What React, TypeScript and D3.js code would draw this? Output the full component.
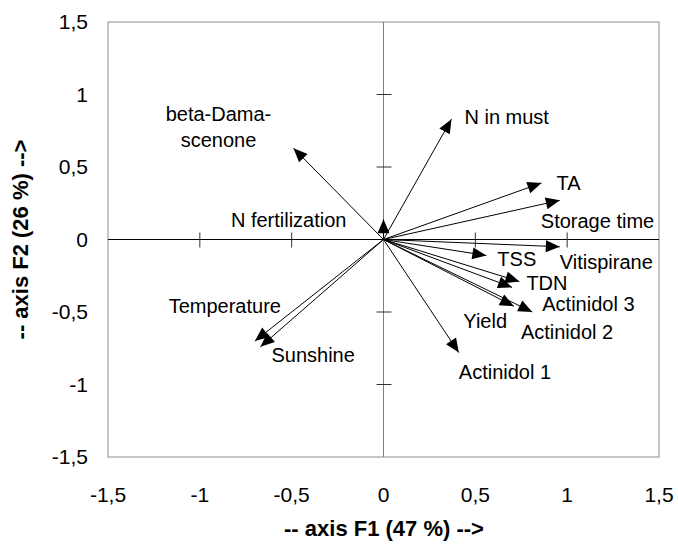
import React from "react";
import { scaleLinear } from "d3";

// loadings
const labels = [
  "N in must", "TA", "Storage time", "Vitispirane", "TSS", "TDN", "Yield",
  "Actinidol 2", "Actinidol 3", "Actinidol 1", "Sunshine", "Temperature",
  "N fertilization", "beta-Dama-scenone",
];
const f1 = [0.37, 0.86, 0.96, 0.96, 0.56, 0.74, 0.70, 0.71, 0.81, 0.41, -0.67, -0.70, 0.0, -0.49];
const f2 = [0.83, 0.39, 0.27, -0.05, -0.11, -0.29, -0.33, -0.46, -0.50, -0.78, -0.74, -0.70, 0.14, 0.63];
const ticks = [-1.5, -1, -0.5, 0, 0.5, 1, 1.5];
const tickText = ["-1,5", "-1", "-0,5", "0", "0,5", "1", "1,5"];

// where each label sits relative to its arrow tip
const labelPlace: Record<string, { dx: number; dy: number; anchor: string }> = {
  "N in must": { dx: 13, dy: -2, anchor: "start" },
  "TA": { dx: 15, dy: 0, anchor: "start" },
  "Storage time": { dx: -19, dy: 21, anchor: "start" },
  "Vitispirane": { dx: 0, dy: 15, anchor: "start" },
  "TSS": { dx: 11, dy: 4, anchor: "start" },
  "TDN": { dx: 7, dy: 1, anchor: "start" },
  "Yield": { dx: -5, dy: 34, anchor: "end" },
  "Actinidol 2": { dx: 7, dy: 26, anchor: "start" },
  "Actinidol 3": { dx: 10, dy: -8, anchor: "start" },
  "Actinidol 1": { dx: 0, dy: 19, anchor: "start" },
  "Sunshine": { dx: 11, dy: 8, anchor: "start" },
  "Temperature": { dx: 26, dy: -35, anchor: "end" },
  "N fertilization": { dx: -37, dy: 1, anchor: "end" },
  "beta-Dama-scenone": { dx: -75, dy: -34, anchor: "middle" },
};

const W = 678, H = 546;
const left = 108, right = 659, top = 22, bottom = 457;
const font = "'Liberation Sans', Arial, sans-serif";

export default function App() {
  const x = scaleLinear().domain([-1.5, 1.5]).range([left, right]);
  const y = scaleLinear().domain([-1.5, 1.5]).range([bottom, top]);
  const x0 = x(0), y0 = y(0);

  // filled triangular arrow head pointing away from the origin
  const head = (tx: number, ty: number) => {
    const ang = Math.atan2(ty - y0, tx - x0);
    const len = 14, half = 6;
    const bx = tx - len * Math.cos(ang), by = ty - len * Math.sin(ang);
    const px = -Math.sin(ang) * half, py = Math.cos(ang) * half;
    return `M${tx},${ty}L${bx + px},${by + py}L${bx - px},${by - py}Z`;
  };

  return (
    <svg width={W} height={H} style={{ position: "absolute", left: 0, top: 0, background: "#fff" }}
      fontFamily={font}>
      <rect x={left} y={top} width={right - left} height={bottom - top} fill="none" stroke="#8c8c8c" strokeWidth={1} />

      {/* axes through origin */}
      <line x1={x0} x2={x0} y1={top} y2={bottom} stroke="#808080" strokeWidth={1} />
      <line x1={left} x2={right} y1={y0} y2={y0} stroke="#000" strokeWidth={1} />
      {ticks.filter(t => t !== 0 && Math.abs(t) !== 1.5).map(t => (
        <g key={"t" + t}>
          <line x1={x(t)} x2={x(t)} y1={y0 - 7} y2={y0 + 8} stroke="#333" />
          <line x1={x0 - 7} x2={x0 + 8} y1={y(t)} y2={y(t)} stroke="#333" />
        </g>
      ))}

      {/* tick labels */}
      {ticks.map((t, i) => (
        <text key={"xl" + t} x={x(t)} y={495} dy="0.35em" textAnchor="middle" fontSize={21}>{tickText[i]}</text>
      ))}
      {ticks.map((t, i) => (
        <text key={"yl" + t} x={88} y={y(t)} dy="0.35em" textAnchor="end" fontSize={21}>{tickText[i]}</text>
      ))}

      {/* vectors */}
      {labels.map((lab, i) => {
        const tx = x(f1[i]), ty = y(f2[i]);
        const p = labelPlace[lab];
        const parts = lab === "beta-Dama-scenone" ? ["beta-Dama-", "scenone"] : [lab];
        return (
          <g key={lab}>
            <line x1={x0} y1={y0} x2={tx} y2={ty} stroke="#000" strokeWidth={1} />
            <path d={head(tx, ty)} fill="#000" />
            {parts.map((s, j) => (
              <text key={s} x={tx + p.dx} y={ty + p.dy + j * 26} dy="0.35em" textAnchor={p.anchor} fontSize={20}>{s}</text>
            ))}
          </g>
        );
      })}

      <text x={384} y={528} dy="0.35em" textAnchor="middle" fontSize={22} fontWeight="bold">-- axis F1 (47 %) --&gt;</text>
      <text transform={`translate(20,${(top + bottom) / 2}) rotate(-90)`} dy="0.35em" textAnchor="middle" fontSize={22} fontWeight="bold">-- axis F2 (26 %) --&gt;</text>
    </svg>
  );
}
